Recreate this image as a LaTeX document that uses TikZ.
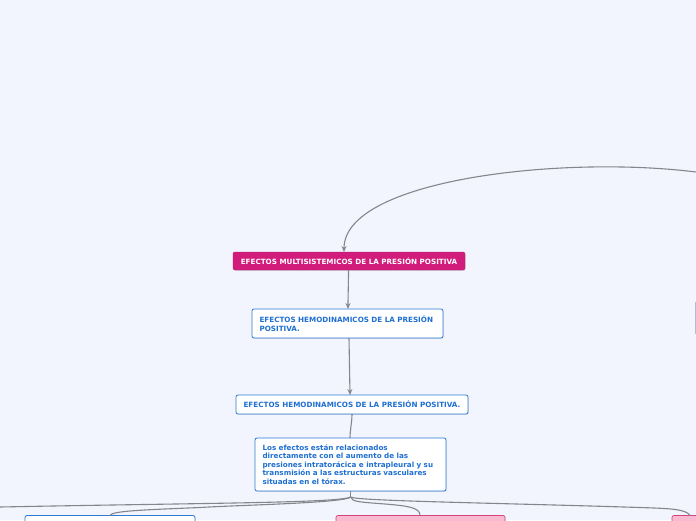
\documentclass[tikz,border=0pt]{standalone}
\usepackage{fontspec}
\setmainfont{DejaVu Sans}
\usetikzlibrary{arrows.meta,shadows}
\definecolor{bg}{HTML}{F2F5FE}
\definecolor{mag}{HTML}{D21C7C}
\definecolor{bluebd}{HTML}{2C7CD6}
\definecolor{bluetx}{HTML}{1F6FD1}
\definecolor{pinkfill}{HTML}{F9B9D1}
\definecolor{pinkbd}{HTML}{D4457E}
\definecolor{conn}{HTML}{85858C}
\definecolor{faint}{HTML}{B4BCD4}
\tikzset{
  x=1pt, y=-1pt,
  base/.style={rounded corners=2pt, inner sep=0pt, outer sep=0pt,
     font=\fontsize{7.2}{8.6}\selectfont\bfseries,
     drop shadow={shadow xshift=0.6pt, shadow yshift=-0.8pt, opacity=0.25}},
  magbox/.style={base, fill=mag, draw=mag!85!black, text=white},
  bluebox/.style={base, fill=white, draw=bluebd, line width=0.8pt, text=bluetx},
  pinkbox/.style={base, fill=pinkfill, draw=pinkbd, line width=0.7pt},
  plainbox/.style={base, fill=white, draw=bluebd, line width=0.8pt},
  link/.style={draw=conn, line width=1.1pt},
  arrowlink/.style={link, -{Stealth[length=6pt,width=5pt]}},
}
\begin{document}
\begin{tikzpicture}
\fill[bg] (0,0) rectangle (696,520);
\useasboundingbox (0,0) rectangle (696,520);
\clip (0,0) rectangle (696,520);

% main nodes
\node[magbox, minimum width=232pt, minimum height=18pt] (n1) at (349,261)
  {EFECTOS MULTISISTEMICOS DE LA PRESIÓN POSITIVA};
\node[bluebox, minimum width=191pt, minimum height=29pt, text width=176pt, align=left] (n2) at (347.5,323.5)
  {EFECTOS HEMODINAMICOS DE LA PRESIÓN\\POSITIVA.};
\node[bluebox, minimum width=232pt, minimum height=19pt] (n3) at (352,404.5)
  {EFECTOS HEMODINAMICOS DE LA PRESIÓN POSITIVA.};
\node[bluebox, minimum width=191pt, minimum height=53pt, text width=176pt, align=left] (n4) at (350.5,464.5)
  {Los efectos están relacionados\\directamente con el aumento de las\\presiones intratorácica e intrapleural y su\\transmisión a las estructuras vasculares\\situadas en el tórax.};

% bottom nodes (cut by the edge)
\node[plainbox, minimum width=170pt, minimum height=30pt, anchor=north west] (b1) at (25,515.5) {};
\node[pinkbox, minimum width=169pt, minimum height=30pt, anchor=north west] (b2) at (336,515.5) {};
\node[pinkbox, minimum width=60pt, minimum height=30pt, anchor=north west] (b3) at (672,515.5) {};
% right-edge node (cut by the edge)
\node[draw=faint, fill=white, line width=0.8pt, minimum width=20pt, minimum height=31pt, anchor=north west, inner sep=0pt] (r1) at (695,302) {};

% coordinates of off-picture ends
\coordinate (src) at (696,172);
\coordinate (offl) at (0,507);
\coordinate (j) at (350.5,497);

% connectors
\draw[arrowlink] (src) .. controls (560,155) and (344,180) .. (n1.north -| 344,0);
\draw[arrowlink] (n1.south -| 348.5,0) .. controls (348.5,285) and (348,295) .. (n2.north -| 348,0);
\draw[arrowlink] (n2.south -| 349,0) -- (n3.north -| 350,0);
\draw[link] (n3.south -| 352,0) .. controls (352,422) and (350,430) .. (n4.north -| 350,0);

\draw[link] (n4.south) -- (j);
\draw[link] (j) .. controls (340,503) and (200,503) .. (offl);
\draw[link] (j) .. controls (345,503) and (240,505) .. (200,507.5) .. controls (140,510) and (112,511) .. (b1.north -| 110,0);
\draw[link] (j) .. controls (352,502) and (360,502) .. (385,504) .. controls (410,506) and (420,508) .. (b2.north -| 420,0);
\draw[link] (j) .. controls (356,501) and (500,503) .. (640,507.5) .. controls (670,508.5) and (686,509) .. (b3.north -| 690,0);
\end{tikzpicture}
\end{document}
